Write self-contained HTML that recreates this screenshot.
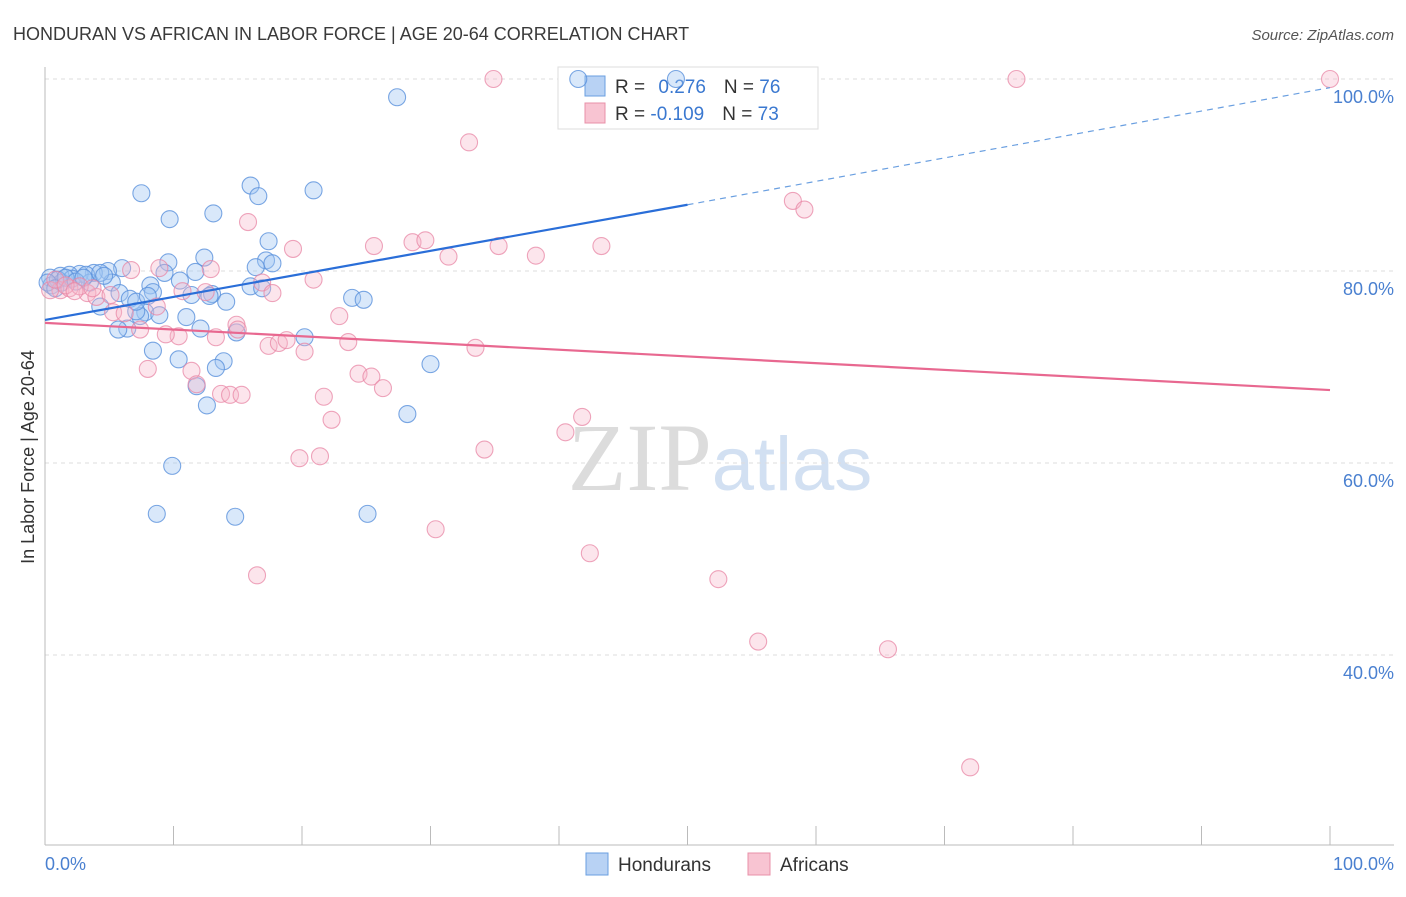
<!DOCTYPE html>
<html><head><meta charset="utf-8"><style>
body{margin:0;background:#fff;font-family:"Liberation Sans",sans-serif;}
</style></head><body>
<svg id="chart" width="1406" height="892" xmlns="http://www.w3.org/2000/svg" font-family="Liberation Sans, sans-serif">
<text x="13" y="40" font-size="18" fill="#3a3a3a">HONDURAN VS AFRICAN IN LABOR FORCE | AGE 20-64 CORRELATION CHART</text>
<text x="1394" y="40" font-size="15" fill="#555" text-anchor="end" font-style="italic">Source: ZipAtlas.com</text>
<text x="720" y="490" font-size="96" text-anchor="middle" font-family="Liberation Serif, serif" fill="#ddd"><tspan fill="#dcdcdc">ZIP</tspan><tspan fill="#d2e0f2" font-family="Liberation Sans, sans-serif" font-size="76">atlas</tspan></text>
<g id="grid"></g>
<g id="axes"></g>
<g>
<rect x="558" y="67" width="260" height="62" fill="#fff" stroke="#ddd"/>
<rect x="585" y="76" width="20" height="20" fill="#b8d2f4" stroke="#6a9fe0"/>
<rect x="585" y="103" width="20" height="20" fill="#f8c4d2" stroke="#e890a8"/>
<text x="615" y="93" font-size="19" fill="#333">R = <tspan fill="#3a78d0" dx="8">0.276</tspan><tspan dx="18" fill="#333">N = </tspan><tspan fill="#3a78d0">76</tspan></text>
<text x="615" y="120" font-size="19" fill="#333">R = <tspan fill="#3a78d0">-0.109</tspan><tspan dx="18" fill="#333">N = </tspan><tspan fill="#3a78d0">73</tspan></text>
</g>
<g id="pts"></g>
<g id="lines"></g>
<text transform="translate(34,457) rotate(-90)" font-size="18" fill="#333" text-anchor="middle">In Labor Force | Age 20-64</text>
<text x="45" y="870" font-size="18" fill="#4a80d0">0.0%</text>
<text x="1394" y="870" font-size="18" fill="#4a80d0" text-anchor="end">100.0%</text>
<g>
<rect x="586" y="853" width="22" height="22" fill="#b8d2f4" stroke="#6a9fe0"/>
<text x="618" y="871" font-size="19" fill="#333">Hondurans</text>
<rect x="748" y="853" width="22" height="22" fill="#f8c4d2" stroke="#e890a8"/>
<text x="780" y="871" font-size="19" fill="#333">Africans</text>
</g>
</svg>
<script>
const yTicks=[100,80,60,40];
const yTickLabels=["100.0%","80.0%","60.0%","40.0%"];
const xTicks=[0,10,20,30,40,50,60,70,80,90,100];
const bluePx=[[578,79],[676,79],[397,97],[142,193],[250,186],[258,196],[313,190],[170,219],[213,213],[269,241],[204,258],[266,260],[273,263],[168,262],[256,267],[195,272],[164,273],[122,268],[108,271],[94,273],[80,274],[70,275],[60,276],[50,278],[52,285],[62,283],[72,279],[90,283],[112,283],[120,293],[130,299],[150,285],[153,292],[145,312],[160,315],[186,317],[212,294],[226,302],[250,286],[201,329],[237,332],[127,329],[118,330],[100,307],[140,316],[352,298],[364,300],[305,337],[153,351],[178,359],[224,361],[216,368],[197,386],[207,405],[431,364],[407,414],[172,466],[157,514],[235,517],[367,514],[86,275],[100,273],[58,280],[48,283],[55,288],[66,278],[76,282],[84,278],[104,276],[136,311],[180,281],[192,295],[210,296],[262,288],[136,302],[148,296]];
const pinkPx=[[493,79],[1016,79],[1330,79],[469,142],[793,201],[805,210],[248,222],[293,249],[374,246],[412,242],[426,240],[448,257],[498,246],[536,256],[602,246],[211,269],[131,270],[160,268],[313,280],[262,283],[273,293],[183,291],[206,292],[87,293],[97,297],[113,312],[157,307],[236,325],[339,316],[268,346],[279,343],[287,340],[305,352],[348,342],[475,348],[148,369],[178,336],[166,334],[216,337],[191,371],[196,384],[221,394],[230,395],[242,395],[359,374],[372,377],[383,388],[324,397],[332,420],[566,432],[582,417],[484,450],[299,458],[320,456],[436,529],[590,553],[257,575],[718,579],[758,642],[888,649],[970,767],[60,290],[70,288],[50,290],[80,286],[110,295],[140,330],[55,280],[65,285],[75,291],[125,313],[238,330],[92,288]];
// convert read pixel positions to data values (x %, y %)
const blueX=bluePx.map(p=>+((p[0]-45)/12.85).toFixed(1));
const blueY=bluePx.map(p=>+(100-(p[1]-79)/9.6).toFixed(1));
const pinkX=pinkPx.map(p=>+((p[0]-45)/12.85).toFixed(1));
const pinkY=pinkPx.map(p=>+(100-(p[1]-79)/9.6).toFixed(1));
const blueLine=[[0,74.9],[50,86.9],[100,99.1]];
const pinkLine=[[0,74.6],[100,67.6]];
const X=v=>45+v*12.85, Y=v=>79+(100-v)*9.6;
const NS="http://www.w3.org/2000/svg";
function mk(tag,attrs,parent){const e=document.createElementNS(NS,tag);for(const k in attrs)e.setAttribute(k,attrs[k]);parent.appendChild(e);return e;}
const grid=document.getElementById('grid'),axes=document.getElementById('axes'),pts=document.getElementById('pts'),lines=document.getElementById('lines');
yTicks.forEach((t,i)=>{
 const l=mk('line',{x1:45,x2:1394,y1:Y(t),y2:Y(t),stroke:'#ddd','stroke-dasharray':'4,4'},grid);
 
 
 const tx=mk('text',{x:1394,y:Y(t)+24,'font-size':18,fill:'#4a80d0','text-anchor':'end'},grid);
 tx.textContent=yTickLabels[i];
 
 
});
const ax=mk('line',{x1:45,x2:45,y1:67,y2:845,stroke:'#bbb'},axes);


const bx=mk('line',{x1:45,x2:1394,y1:845,y2:845,stroke:'#bbb'},axes);


xTicks.forEach(t=>{
 const l=mk('line',{x1:X(t),x2:X(t),y1:826,y2:845,stroke:'#bbb'},axes);
 
 
});
blueX.forEach((x,i)=>{
 const c=mk('circle',{cx:X(x),cy:Y(blueY[i]),r:8.5,fill:'rgba(160,198,242,0.4)',stroke:'rgba(90,145,220,0.8)','stroke-width':1.1},pts);
 
 
});
pinkX.forEach((x,i)=>{
 const c=mk('circle',{cx:X(x),cy:Y(pinkY[i]),r:8.5,fill:'rgba(246,180,200,0.35)',stroke:'rgba(232,135,165,0.75)','stroke-width':1.1},pts);
 
 
});
const b1=mk('line',{x1:X(blueLine[0][0]),y1:Y(blueLine[0][1]),x2:X(blueLine[1][0]),y2:Y(blueLine[1][1]),stroke:'#2a6ed8','stroke-width':2.2},lines);


const b2=mk('line',{x1:X(blueLine[1][0]),y1:Y(blueLine[1][1]),x2:X(blueLine[2][0]),y2:Y(blueLine[2][1]),stroke:'#6a9fe0','stroke-width':1.2,'stroke-dasharray':'6,5'},lines);


const p1=mk('line',{x1:X(pinkLine[0][0]),y1:Y(pinkLine[0][1]),x2:X(pinkLine[1][0]),y2:Y(pinkLine[1][1]),stroke:'#e86890','stroke-width':2.2},lines);


</script>
</body></html>
